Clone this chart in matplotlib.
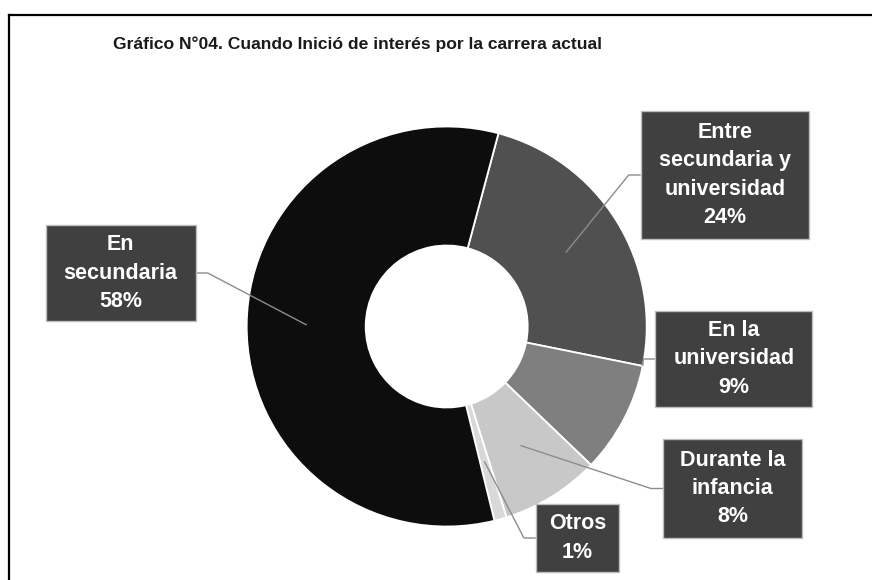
import matplotlib.pyplot as plt
import numpy as np
from matplotlib.patches import Rectangle
from matplotlib.lines import Line2D

titulo = 'Gráfico N°04. Cuando Inició de interés por la carrera actual'
categorias = ['Entre\nsecundaria y\nuniversidad', 'En la\nuniversidad',
              'Durante la\ninfancia', 'Otros', 'En\nsecundaria']
porcentajes = [24, 9, 8, 1, 58]
colores = ['#505050', '#7f7f7f', '#c8c8c8', '#d9d9d9', '#0d0d0d']

# cajas de etiqueta (centro y tamaño, en radios del anillo)
centros = [(1.39, 0.7575), (1.436, -0.1625), (1.429, -0.81),
           (0.6535, -1.0575), (-1.63, 0.2675)]
tamanos = [(0.84, 0.64), (0.785, 0.48), (0.695, 0.495),
           (0.415, 0.34), (0.75, 0.48)]
# punto donde termina la línea guía: fracción del ángulo y radio
guia_frac = [0.5, 1.0, 0.5, 0.5, 0.5]
guia_radio = [0.7, 1.0, 0.7, 0.7, 0.7]

W, H = 872, 580
cx, cy, R = 446.7, 326.5, 200.0

fig = plt.figure(figsize=(W / 100, H / 100), dpi=100)
ax = fig.add_axes([0, 0, 1, 1])

wedges, _ = ax.pie(porcentajes, colors=colores, startangle=75,
                   counterclock=False, radius=1.0,
                   wedgeprops=dict(width=0.595, edgecolor='white',
                                   linewidth=1.3))
# pie() fija sus propios límites: se reemplazan después
ax.set_xlim(-cx / R, (W - cx) / R)
ax.set_ylim(-(H - cy) / R, cy / R)
ax.set_aspect('equal')
ax.axis('off')

for w, txt, pct, (bx, by), (bw, bh), fr, rg in zip(
        wedges, categorias, porcentajes, centros, tamanos,
        guia_frac, guia_radio):
    ang = np.deg2rad(w.theta1 + fr * (w.theta2 - w.theta1))
    px, py = rg * np.cos(ang), rg * np.sin(ang)
    lado = -1 if bx > 0 else 1
    ex = bx + lado * bw / 2
    codo = ex + lado * 0.06
    ax.plot([ex, codo, px], [by, by, py], color='#8c8c8c', lw=1.0,
            zorder=3, solid_capstyle='butt')
    ax.add_patch(Rectangle((bx - bw / 2, by - bh / 2), bw, bh,
                           facecolor='#404040', edgecolor='#bdbdbd',
                           lw=1.0, zorder=4))
    ax.text(bx, by, f'{txt}\n{pct}%', ha='center', va='center',
            ma='center', color='white', fontsize=15.5, fontweight='bold',
            family='Liberation Sans', linespacing=1.45, zorder=5)

fig.text(357 / W, 1 - 49 / H, titulo, ha='center', va='baseline',
         fontsize=12.6, family='Liberation Sans', fontweight='bold',
         color='#1a1a1a')

# marco del gráfico
fig.add_artist(Line2D([8.5 / W, 1], [1 - 14.5 / H] * 2, color='black',
                      lw=1.6, transform=fig.transFigure))
fig.add_artist(Line2D([8.5 / W] * 2, [0, 1 - 14.5 / H], color='black',
                      lw=1.6, transform=fig.transFigure))

fig.savefig('out.png', dpi=100)
